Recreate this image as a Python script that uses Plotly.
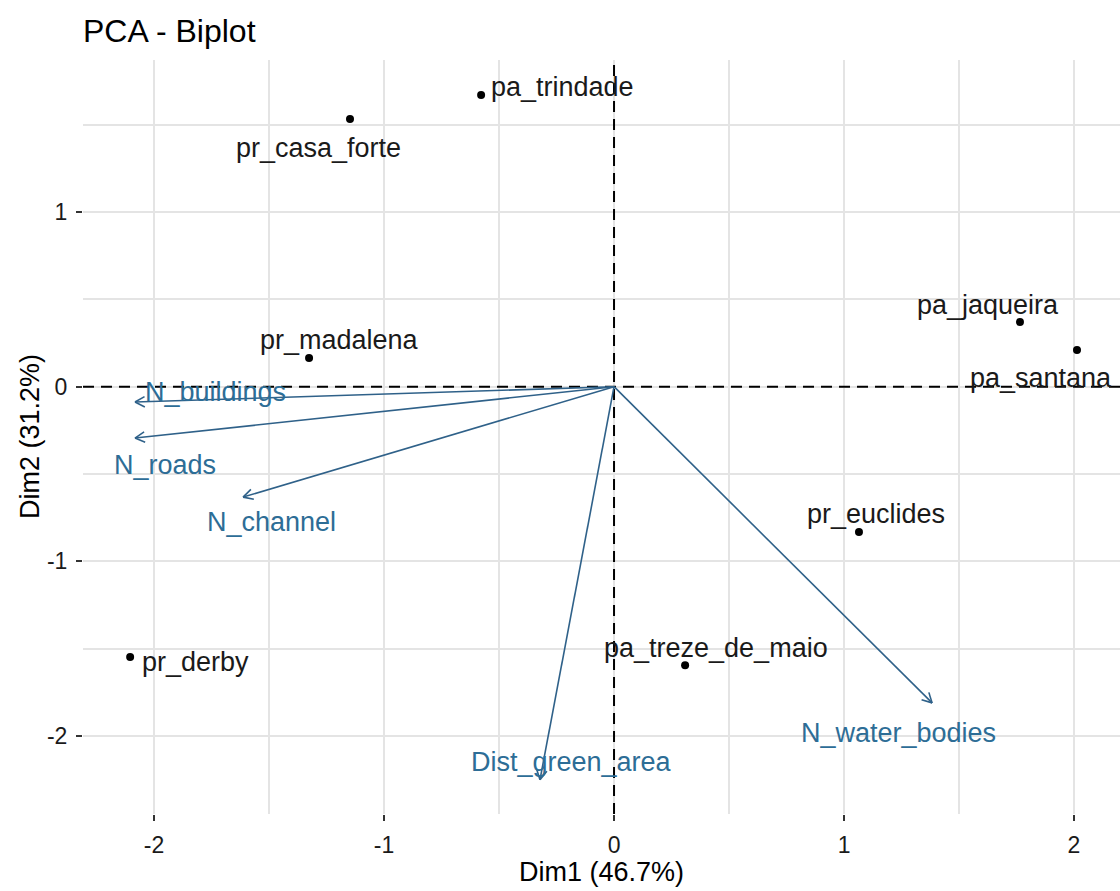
import numpy as np
import plotly.graph_objects as go

# ---------------- data ----------------
ind_names = ["pa_trindade", "pr_casa_forte", "pr_madalena", "pa_jaqueira",
             "pa_santana", "pr_euclides", "pa_treze_de_maio", "pr_derby"]
ind_x = [-0.578, -1.148, -1.326, 1.765, 2.013, 1.065, 0.309, -2.104]
ind_y = [1.670, 1.532, 0.164, 0.370, 0.210, -0.832, -1.594, -1.548]

var_names = ["N_buildings", "N_roads", "N_channel", "Dist_green_area", "N_water_bodies"]
var_x = [-2.083, -2.083, -1.613, -0.322, 1.383]
var_y = [-0.088, -0.294, -0.632, -2.250, -1.810]

x_ticks = [-2, -1, 0, 1, 2]
y_ticks = [-2, -1, 0, 1]

title_text = "PCA - Biplot"
x_title = "Dim1 (46.7%)"
y_title = "Dim2 (31.2%)"

# ---------------- layout constants ----------------
W, H = 1120, 891
ML, MR, MT, MB = 83, 0, 60, 77
XR = [-2.309, 2.2]
YR = [-2.446, 1.87]
PW, PH = W - ML - MR, H - MT - MB
SX = PW / (XR[1] - XR[0])
SY = PH / (YR[1] - YR[0])

FONT = "Liberation Sans, Arial, sans-serif"
VAR_LINE = "#2F6189"
VAR_TEXT = "#2D6D96"
GRID = "#E4E4E4"
DASH = "11px,7px"

# label pixel offsets (dx right, dy down) relative to the mark
ind_off = [(81, -8), (-32, 29), (30, -18), (-32, -17), (-36, 28), (17, -18), (31, -17), (65, 5)]
var_off = [(81, -10), (30, 27), (28, 25), (32, -18), (-34, 30)]

fig = go.Figure()

# dashed reference lines through the origin
fig.add_trace(go.Scatter(x=[0, 0], y=YR, mode="lines",
                         line=dict(color="black", width=2, dash=DASH),
                         hoverinfo="skip", showlegend=False))
fig.add_trace(go.Scatter(x=XR, y=[0, 0], mode="lines",
                         line=dict(color="black", width=2, dash=DASH),
                         hoverinfo="skip", showlegend=False))

# arrows (shaft + open V head computed in pixel space)
lx, ly = [], []
HEAD_LEN, HEAD_ANG = 11, np.deg2rad(28)
for vx, vy in zip(var_x, var_y):
    lx += [0, vx, None]
    ly += [0, vy, None]
    px, py = vx * SX, vy * SY
    ang = np.arctan2(py, px)
    for s in (1, -1):
        a = ang + np.pi + s * HEAD_ANG
        hx = vx + HEAD_LEN * np.cos(a) / SX
        hy = vy + HEAD_LEN * np.sin(a) / SY
        lx += [hx, vx, None]
        ly += [hy, vy, None]

fig.add_trace(go.Scatter(x=lx, y=ly, mode="lines",
                         line=dict(color=VAR_LINE, width=1.6),
                         hoverinfo="skip", showlegend=False))

# individuals
fig.add_trace(go.Scatter(x=ind_x, y=ind_y, mode="markers",
                         marker=dict(color="black", size=8),
                         text=ind_names, hoverinfo="text", showlegend=False))

annotations = []
for name, x, y, (dx, dy) in zip(ind_names, ind_x, ind_y, ind_off):
    annotations.append(dict(x=x, y=y, xref="x", yref="y", text=name, showarrow=False,
                            xshift=dx, yshift=-dy, xanchor="center", yanchor="middle",
                            font=dict(family=FONT, size=27, color="#1a1a1a")))
for name, x, y, (dx, dy) in zip(var_names, var_x, var_y, var_off):
    annotations.append(dict(x=x, y=y, xref="x", yref="y", text=name, showarrow=False,
                            xshift=dx, yshift=-dy, xanchor="center", yanchor="middle",
                            font=dict(family=FONT, size=27, color=VAR_TEXT)))

# axis titles
annotations.append(dict(x=0.5, y=-(872 - (MT + PH)) / PH, xref="paper", yref="paper",
                        text=x_title, showarrow=False, xanchor="center", yanchor="middle",
                        font=dict(family=FONT, size=27, color="black")))
annotations.append(dict(x=-(ML - 30) / PW, y=0.5, xref="paper", yref="paper",
                        text=y_title, showarrow=False, textangle=-90,
                        xanchor="center", yanchor="middle",
                        font=dict(family=FONT, size=27, color="black")))

axis_common = dict(
    showgrid=True, gridcolor=GRID, gridwidth=1.5,
    zeroline=False, showline=False,
    ticks="outside", ticklen=6, tickwidth=2, tickcolor="#333333",
    tickfont=dict(family=FONT, size=23, color="#1a1a1a"),
)

fig.update_layout(
    width=W, height=H,
    margin=dict(l=ML, r=MR, t=MT, b=MB, autoexpand=False),
    paper_bgcolor="white", plot_bgcolor="white",
    title=dict(text=title_text, x=ML / W, xref="container", xanchor="left",
               y=1 - 31 / H, yref="container", yanchor="middle",
               font=dict(family=FONT, size=32, color="black")),
    xaxis=dict(range=XR, tickvals=x_ticks, ticktext=[str(v) for v in x_ticks],
               minor=dict(dtick=0.5, tick0=0.5, showgrid=True, gridcolor=GRID, gridwidth=1.5, ticks=""),
               ticklabelstandoff=4, **axis_common),
    yaxis=dict(range=YR, tickvals=y_ticks, ticktext=[str(v) for v in y_ticks],
               minor=dict(dtick=0.5, tick0=0.5, showgrid=True, gridcolor=GRID, gridwidth=1.5, ticks=""),
               ticklabelstandoff=4, **axis_common),
    annotations=annotations,
    showlegend=False,
)

fig.write_html("out.html")
